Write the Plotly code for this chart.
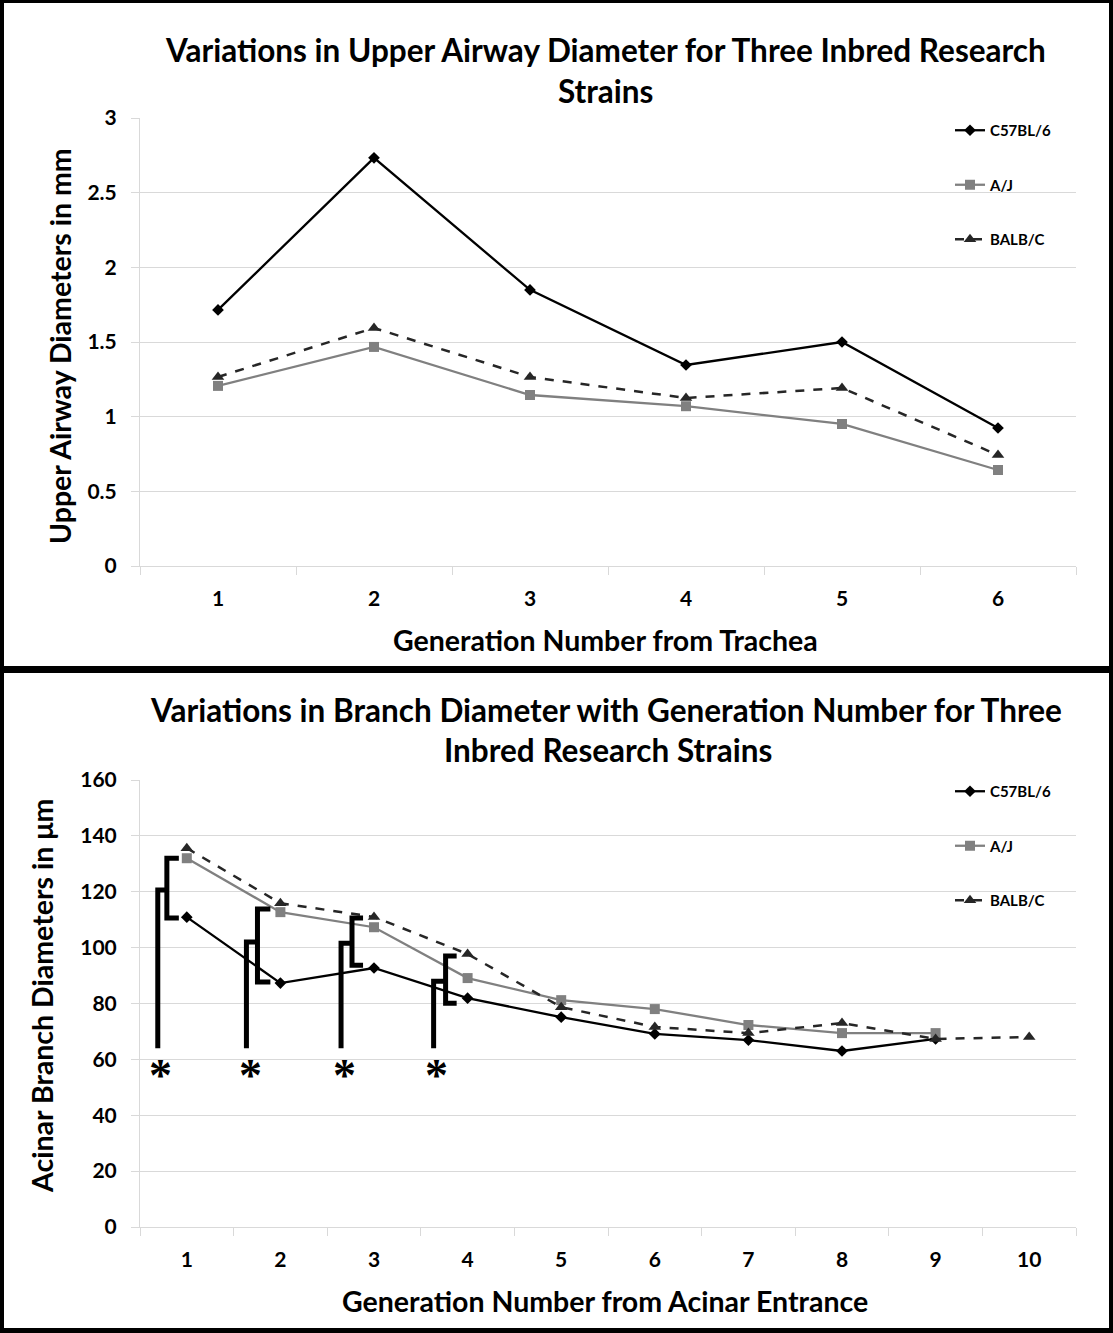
import plotly.graph_objects as go

# ---------------- data ----------------
series_names = ["C57BL/6", "A/J", "BALB/C"]

top_gen = [1, 2, 3, 4, 5, 6]
top_c57 = [1.715, 2.733, 1.849, 1.346, 1.50, 0.924]
top_aj = [1.206, 1.467, 1.145, 1.07, 0.951, 0.643]
top_balbc = [1.266, 1.594, 1.266, 1.125, 1.192, 0.743]

bot_gen = [1, 2, 3, 4, 5, 6, 7, 8, 9, 10]
bot_c57 = [110.9, 87.3, 92.7, 81.9, 75.1, 69.1, 66.9, 63.0, 67.3]
bot_aj = [132.0, 112.7, 107.3, 89.1, 81.2, 78.0, 72.3, 69.4, 69.4]
bot_balbc = [135.6, 115.9, 111.0, 97.7, 78.7, 71.6, 69.4, 73.0, 67.3, 68.0]

top_yticks = [0, 0.5, 1, 1.5, 2, 2.5, 3]
top_yticklabels = ["0", "0.5", "1", "1.5", "2", "2.5", "3"]
bot_yticks = [0, 20, 40, 60, 80, 100, 120, 140, 160]

# significance brackets (generation units / µm)
bracket_x = [0.69, 1.637, 2.648, 3.637]
bracket_base = [64, 64, 64, 64]
bracket_join = [120.6, 102.0, 101.6, 88.0]
bracket_inner_x = [0.787, 1.755, 2.765, 3.765]
bracket_top = [132.0, 113.8, 110.6, 97.0]
bracket_bottom = [110.6, 87.7, 93.7, 80.1]
bracket_end_x = [0.915, 1.893, 2.883, 3.883]
star_x = [0.72, 1.68, 2.68, 3.67]
star_y = 57

FONT = "Lato, 'Open Sans', sans-serif"
W, H = 1113, 1333

def px(x):
    return x / W

def py(y):
    return 1 - y / H

styles = [
    dict(line=dict(color="#000000", width=2.3), marker=dict(symbol="diamond", size=9, color="#000000")),
    dict(line=dict(color="#808080", width=2.3), marker=dict(symbol="square", size=10, color="#808080")),
    dict(line=dict(color="#262626", width=2.5, dash="dash"), marker=dict(symbol="triangle-up", size=11, color="#262626")),
]

fig = go.Figure()

for i, (name, vals) in enumerate(zip(series_names, [top_c57, top_aj, top_balbc])):
    fig.add_trace(go.Scatter(
        x=top_gen[:len(vals)], y=vals, name=name, mode="lines+markers",
        xaxis="x", yaxis="y", legend="legend", legendgroup="t" + str(i),
        **styles[i]))

for i, (name, vals) in enumerate(zip(series_names, [bot_c57, bot_aj, bot_balbc])):
    fig.add_trace(go.Scatter(
        x=bot_gen[:len(vals)], y=vals, name=name, mode="lines+markers",
        xaxis="x2", yaxis="y2", legend="legend2", legendgroup="b" + str(i),
        **styles[i]))

# brackets
bx, by = [], []
for k in range(len(bracket_x)):
    bx += [bracket_x[k], bracket_x[k], bracket_inner_x[k], None,
           bracket_end_x[k], bracket_inner_x[k], bracket_inner_x[k], bracket_end_x[k], None]
    by += [bracket_base[k], bracket_join[k], bracket_join[k], None,
           bracket_top[k], bracket_top[k], bracket_bottom[k], bracket_bottom[k], None]
fig.add_trace(go.Scatter(x=bx, y=by, mode="lines", xaxis="x2", yaxis="y2",
                         line=dict(color="#000000", width=5), showlegend=False,
                         hoverinfo="skip"))

for sx in star_x:
    fig.add_annotation(x=sx, y=star_y, xref="x2", yref="y2", text="*",
                       showarrow=False, yanchor="middle", yshift=-8,
                       font=dict(family="Liberation Serif", size=46, color="#000000",
                                 weight="bold"))

xdom = [px(140), px(1076)]
axis_common = dict(showline=True, linecolor="#d9d9d9", linewidth=1,
                   tickfont=dict(family=FONT, size=21, color="#000000", weight="bold"),
                   zeroline=False, automargin=False)

fig.update_layout(
    width=W, height=H,
    margin=dict(l=0, r=0, t=0, b=0, pad=0, autoexpand=False),
    paper_bgcolor="white", plot_bgcolor="white",
    font=dict(family=FONT, color="#000000"),
    xaxis=dict(domain=xdom, anchor="y", range=[0.5, 6.5], tickmode="array",
               tickvals=top_gen, ticktext=[str(g) for g in top_gen],
               showgrid=False, ticks="", ticklabelstandoff=14,
               minor=dict(tick0=0.5, dtick=1, ticks="outside", ticklen=8,
                          tickcolor="#d9d9d9", showgrid=False),
               **axis_common),
    yaxis=dict(domain=[py(566), py(118)], anchor="x", range=[0, 3],
               tickmode="array", tickvals=top_yticks, ticktext=top_yticklabels,
               showgrid=True, gridcolor="#d9d9d9", gridwidth=1,
               ticks="outside", ticklen=8, tickcolor="#d9d9d9",
               ticklabelstandoff=10, **axis_common),
    xaxis2=dict(domain=xdom, anchor="y2", range=[0.5, 10.5], tickmode="array",
                tickvals=bot_gen, ticktext=[str(g) for g in bot_gen],
                showgrid=False, ticks="", ticklabelstandoff=14,
                minor=dict(tick0=0.5, dtick=1, ticks="outside", ticklen=8,
                           tickcolor="#d9d9d9", showgrid=False),
                **axis_common),
    yaxis2=dict(domain=[py(1227), py(780)], anchor="x2", range=[0, 160],
                tickmode="array", tickvals=bot_yticks,
                showgrid=True, gridcolor="#d9d9d9", gridwidth=1,
                ticks="outside", ticklen=8, tickcolor="#d9d9d9",
                ticklabelstandoff=10, **axis_common),
    legend=dict(x=px(950), y=py(114), xanchor="left", yanchor="top",
                bgcolor="rgba(0,0,0,0)", tracegroupgap=32,
                font=dict(family=FONT, size=15, color="#000000", weight="bold"),
                itemwidth=30),
    legend2=dict(x=px(950), y=py(775), xanchor="left", yanchor="top",
                 bgcolor="rgba(0,0,0,0)", tracegroupgap=32,
                 font=dict(family=FONT, size=15, color="#000000", weight="bold"),
                 itemwidth=30),
    showlegend=True,
)

title_font = dict(family=FONT, size=31.5, color="#000000", weight="bold")
axt_font = dict(family=FONT, size=28.5, color="#000000", weight="bold")
texts = [
    ("Variations in Upper Airway Diameter for Three Inbred Research", 605, 50, 0, title_font),
    ("Strains", 605, 91, 0, title_font),
    ("Generation Number from Trachea", 605, 640, 0, axt_font),
    ("Upper Airway Diameters in mm", 60, 346, -90, axt_font),
    ("Variations in Branch Diameter with Generation Number for Three", 606, 710, 0, title_font),
    ("Inbred Research Strains", 608, 750, 0, title_font),
    ("Generation Number from Acinar Entrance", 605, 1301, 0, axt_font),
    ("Acinar Branch Diameters in μm", 42, 996, -90, axt_font),
]
for t, x, y, ang, f in texts:
    fig.add_annotation(text=t, x=px(x), y=py(y), xref="paper", yref="paper",
                       showarrow=False, xanchor="center", yanchor="middle",
                       textangle=ang, font=f)

# panel frames
frame = dict(type="rect", xref="paper", yref="paper", fillcolor="#000000", line=dict(width=0), layer="above")
for x0, y0, x1, y1 in [(0, 0, 4, H), (1109, 0, W, H), (0, 0, W, 3),
                       (0, 666, W, 673), (0, 1328, W, H)]:
    fig.add_shape(x0=px(x0), x1=px(x1), y0=py(y0), y1=py(y1), **frame)

fig.write_html("out.html")
